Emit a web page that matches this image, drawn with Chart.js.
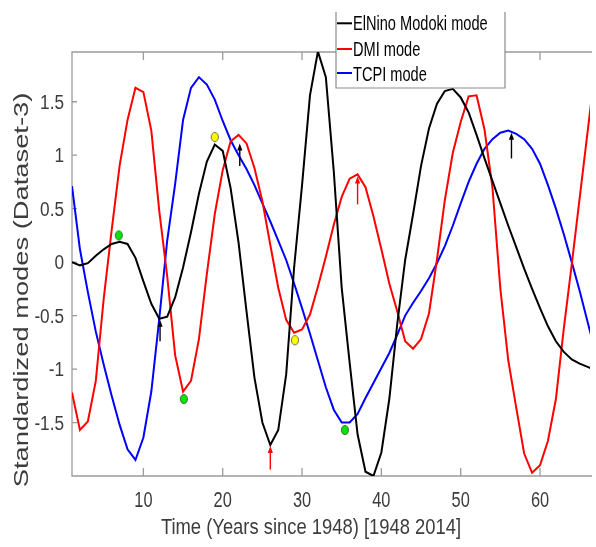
<!DOCTYPE html>
<html>
<head>
<meta charset="utf-8">
<script src="https://cdn.jsdelivr.net/npm/chart.js@4.4.0/dist/chart.umd.min.js"></script>
<style>
  html, body { margin: 0; padding: 0; background: #fff; overflow: hidden; }
  canvas { display: block; }
</style>
</head>
<body>
<canvas id="modes" width="596" height="547"></canvas>
<script>
// years since 1948, one sample per year
const years = Array.from({ length: 67 }, (_, i) => i + 1);

const elNinoModoki = [
  0.00, -0.03, -0.01, 0.06, 0.12, 0.17, 0.19, 0.17, 0.04, -0.18,
  -0.39, -0.53, -0.51, -0.33, -0.05, 0.28, 0.64, 0.94, 1.10, 1.04,
  0.69, 0.18, -0.46, -1.08, -1.50, -1.71, -1.57, -1.05, -0.05, 0.72,
  1.56, 1.97, 1.73, 0.85, -0.24, -0.94, -1.61, -1.96, -2.00, -1.78,
  -1.28, -0.58, 0.02, 0.45, 0.90, 1.25, 1.48, 1.60, 1.62, 1.54,
  1.40, 1.19, 0.97, 0.76, 0.55, 0.34, 0.14, -0.06, -0.25, -0.43,
  -0.60, -0.74, -0.84, -0.91, -0.95, -0.98, -1.01
];

const dmi = [
  -1.22, -1.57, -1.49, -1.11, -0.34, 0.30, 0.90, 1.33, 1.63, 1.59,
  1.23, 0.48, -0.13, -0.87, -1.21, -1.11, -0.72, -0.11, 0.45, 0.86,
  1.13, 1.19, 1.11, 0.88, 0.57, 0.16, -0.24, -0.54, -0.66, -0.63,
  -0.49, -0.23, 0.05, 0.35, 0.61, 0.78, 0.82, 0.70, 0.43, 0.12,
  -0.20, -0.46, -0.74, -0.81, -0.72, -0.48, 0.02, 0.58, 1.02, 1.31,
  1.55, 1.56, 1.24, 0.70, -0.25, -0.92, -1.36, -1.79, -1.97, -1.90,
  -1.67, -1.28, -0.62, -0.02, 0.60, 1.22, 1.84
];

const tcpi = [
  0.71, 0.12, -0.28, -0.65, -0.96, -1.25, -1.52, -1.75, -1.85, -1.64,
  -1.21, -0.53, 0.20, 0.73, 1.33, 1.63, 1.73, 1.66, 1.52, 1.32,
  1.14, 1.00, 0.87, 0.72, 0.55, 0.38, 0.20, 0.02, -0.20, -0.43,
  -0.67, -0.92, -1.17, -1.38, -1.50, -1.50, -1.42, -1.27, -1.13, -0.99,
  -0.85, -0.68, -0.50, -0.38, -0.27, -0.15, -0.01, 0.15, 0.34, 0.55,
  0.75, 0.92, 1.06, 1.15, 1.21, 1.23, 1.20, 1.15, 1.06, 0.92,
  0.72, 0.50, 0.26, 0.00, -0.27, -0.56, -0.85
];

const seriesNames = ['ElNino Modoki mode', 'DMI mode', 'TCPI mode'];
const seriesColors = ['#000000', '#ff0000', '#0000ff'];

// marked events
const dotX = [6.9, 15.1, 19.0, 29.1, 35.4];
const dotY = [0.25, -1.28, 1.17, -0.73, -1.57];
const dotColors = ['#00e600', '#00e600', '#ffff00', '#ffff00', '#00e600'];

const arrowX = [12.1, 22.15, 26.0, 37.0, 56.4];
const arrowHeadY = [-0.54, 1.11, -1.72, 0.80, 1.21];
const arrowTailY = [-0.74, 0.90, -1.94, 0.54, 0.97];
const arrowColors = ['#000000', '#000000', '#ff0000', '#ff0000', '#000000'];

const xTicks = [10, 20, 30, 40, 50, 60];
const yTicks = [-1.5, -1, -0.5, 0, 0.5, 1, 1.5];

const xTitle = 'Time (Years since 1948) [1948 2014]';
const yTitle = 'Standardized modes (Dataset-3)';

const FONT = '"Liberation Sans", Arial, sans-serif';
const AXIS_GRAY = '#9a9a9a';
const TEXT_GRAY = '#3c3c3c';

function dotImage(color) {
  const c = document.createElement('canvas');
  c.width = 10; c.height = 12;
  const g = c.getContext('2d');
  g.beginPath();
  g.ellipse(5, 6, 3.6, 4.6, 0, 0, Math.PI * 2);
  g.fillStyle = color;
  g.fill();
  g.lineWidth = 0.7;
  g.strokeStyle = '#333';
  g.stroke();
  return c;
}

function stretchedText(ctx, str, x, y, size, sx, sy, align, color) {
  ctx.save();
  ctx.translate(x, y);
  ctx.scale(sx, sy);
  ctx.font = size + 'px ' + FONT;
  ctx.textAlign = align;
  ctx.textBaseline = 'alphabetic';
  ctx.fillStyle = color;
  ctx.fillText(str, 0, 0);
  ctx.restore();
}

const frame = {
  id: 'frame',
  beforeDatasetsDraw(chart) {
    const { ctx, chartArea: a, scales: { x, y } } = chart;
    ctx.save();
    ctx.strokeStyle = AXIS_GRAY;
    ctx.lineWidth = 1.3;
    ctx.beginPath();
    ctx.moveTo(a.right + 2, a.top); ctx.lineTo(a.left, a.top);
    ctx.lineTo(a.left, a.bottom); ctx.lineTo(a.right + 2, a.bottom);
    // inward ticks
    x.ticks.forEach(t => {
      const px = x.getPixelForValue(t.value);
      ctx.moveTo(px, a.bottom); ctx.lineTo(px, a.bottom - 8);
      ctx.moveTo(px, a.top); ctx.lineTo(px, a.top + 8);
    });
    y.ticks.forEach(t => {
      const py = y.getPixelForValue(t.value);
      ctx.moveTo(a.left, py); ctx.lineTo(a.left + 5, py);
    });
    ctx.stroke();
    ctx.restore();
  },
  afterDatasetsDraw(chart) {
    const { ctx, scales: { x, y } } = chart;
    ctx.save();
    arrowX.forEach((ax, i) => {
      const px = x.getPixelForValue(ax);
      const head = y.getPixelForValue(arrowHeadY[i]);
      const tail = y.getPixelForValue(arrowTailY[i]);
      ctx.strokeStyle = ctx.fillStyle = arrowColors[i];
      ctx.lineWidth = 1.4;
      ctx.beginPath();
      ctx.moveTo(px, tail); ctx.lineTo(px, head + 4);
      ctx.stroke();
      ctx.beginPath();
      ctx.moveTo(px, head);
      ctx.lineTo(px - 2.6, head + 7);
      ctx.lineTo(px + 2.6, head + 7);
      ctx.closePath();
      ctx.fill();
    });
    ctx.restore();
  },
  afterDraw(chart) {
    const { ctx, scales: { x, y } } = chart;

    // tick labels
    x.ticks.forEach(t => {
      stretchedText(ctx, String(t.value), x.getPixelForValue(t.value), 506.5, 16.4, 1, 1.35, 'center', TEXT_GRAY);
    });
    y.ticks.forEach(t => {
      stretchedText(ctx, String(t.value), 64, y.getPixelForValue(t.value) + 7.3, 17.2, 1, 1.2, 'right', TEXT_GRAY);
    });

    // axis titles
    stretchedText(ctx, xTitle, 311, 534, 18.4, 1, 1.2, 'center', TEXT_GRAY);
    ctx.save();
    ctx.translate(28, 290);
    ctx.rotate(-Math.PI / 2);
    stretchedText(ctx, yTitle, 0, 0, 21, 1.3, 1, 'center', TEXT_GRAY);
    ctx.restore();

    // legend box
    const bx = 336, by = 12, bw = 169, bh = 76;
    ctx.save();
    ctx.fillStyle = '#fff';
    ctx.fillRect(bx, by, bw, bh);
    ctx.strokeStyle = '#8c8c8c';
    ctx.lineWidth = 1.2;
    ctx.beginPath();
    ctx.moveTo(bx, by); ctx.lineTo(bx, by + bh);
    ctx.lineTo(bx + bw, by + bh); ctx.lineTo(bx + bw, by);
    ctx.stroke();
    const rows = [23.3, 49, 73];
    const bases = [30, 55.7, 81];
    chart.data.datasets.slice(0, 3).forEach((ds, i) => {
      ctx.strokeStyle = ds.borderColor;
      ctx.lineWidth = 2;
      ctx.beginPath();
      ctx.moveTo(bx + 1, rows[i]); ctx.lineTo(bx + 16, rows[i]);
      ctx.stroke();
      stretchedText(ctx, ds.label, 353, bases[i], 14.6, 1, 1.35, 'left', '#000');
    });
    ctx.restore();
  }
};

const lineSets = [elNinoModoki, dmi, tcpi].map((vals, k) => ({
  label: seriesNames[k],
  data: years.map((yr, i) => ({ x: yr, y: vals[i] })),
  showLine: true,
  borderColor: seriesColors[k],
  borderWidth: 2,
  pointRadius: 0,
  tension: 0
}));

const dotSet = {
  label: 'events',
  data: dotX.map((dx, i) => ({ x: dx, y: dotY[i] })),
  showLine: false,
  pointStyle: dotColors.map(dotImage),
  pointRadius: 5
};

new Chart(document.getElementById('modes'), {
  type: 'scatter',
  data: { datasets: [...lineSets, dotSet] },
  options: {
    responsive: false,
    animation: false,
    layout: { padding: { top: 52, left: 0, right: -6, bottom: 0 } },
    plugins: { legend: { display: false }, tooltip: { enabled: false } },
    scales: {
      x: {
        type: 'linear',
        min: 1,
        max: 66.3,
        grid: { display: false },
        border: { display: false },
        ticks: { display: false },
        afterBuildTicks: s => { s.ticks = xTicks.map(v => ({ value: v })); },
        afterFit: s => { s.height = 71; }
      },
      y: {
        min: -2.0,
        max: 1.965,
        grid: { display: false },
        border: { display: false },
        ticks: { display: false },
        afterBuildTicks: s => { s.ticks = yTicks.map(v => ({ value: v })); },
        afterFit: s => { s.width = 72; }
      }
    }
  },
  plugins: [frame]
});
</script>
</body>
</html>
